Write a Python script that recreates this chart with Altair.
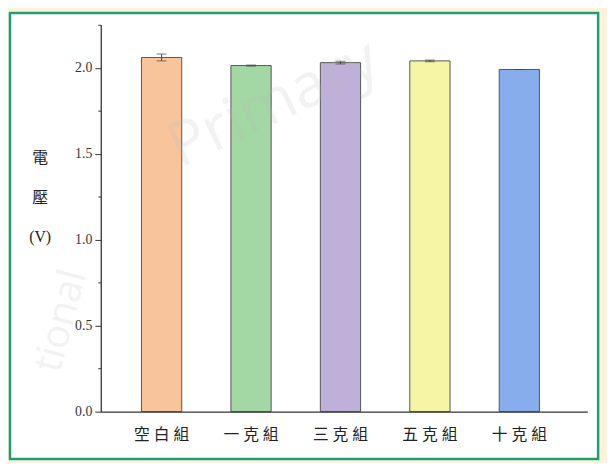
import altair as alt
import pandas as pd

groups = ["空白組", "一克組", "三克組", "五克組", "十克組"]
voltage = [2.06, 2.013, 2.03, 2.04, 1.99]
errors = [0.02, 0.003, 0.008, 0.005, 0.0]
colors = ["#f8c49c", "#a3d7a3", "#bfb0d9", "#f5f5a4", "#88adec"]
y_ticks = [0.0, 0.25, 0.5, 0.75, 1.0, 1.25, 1.5, 1.75, 2.0, 2.25]

df = pd.DataFrame({"group": groups, "v": voltage, "err": errors})
df["lo"] = df["v"] - df["err"]
df["hi"] = df["v"] + df["err"]

W, H = 493, 392
SERIF = "Liberation Serif, Times New Roman, DejaVu Serif, serif"
CJK = "Liberation Serif, Times New Roman, Noto Sans CJK TC, serif"

xscale = alt.Scale(domain=groups, paddingInner=0.55, paddingOuter=0.495, align=0.46)
yscale = alt.Scale(domain=[0, 2.25], nice=False, zero=True)

x_enc = alt.X("group:N", scale=xscale, sort=groups, title=None,
              axis=alt.Axis(labelAngle=0, ticks=False, labelPadding=15,
                            labelFont=CJK, labelFontSize=16, labelColor="#222",
                            labelExpr="join(split(datum.label, ''), ' ')",
                            domainColor="#333", domainWidth=1.3, zindex=1))
y_enc = alt.Y("v:Q", scale=yscale,
              title=["電", "壓", "(V)"],
              axis=alt.Axis(values=y_ticks, grid=False,
                            labelExpr="datum.value % 0.5 == 0 ? format(datum.value, '.1f') : ''",
                            tickSize={"condition": {"test": "datum.value % 0.5 == 0", "value": 6}, "value": 3},
                            tickColor="#333", domainColor="#333", domainWidth=1.3,
                            labelFont=SERIF, labelFontSize=14, labelColor="#333", labelPadding=3,
                            titleAngle=0, titleX=-62, titleY=135, titleAlign="center",
                            titleBaseline="middle", titleLineHeight=40,
                            titleFont=CJK, titleFontSize=16, titleFontWeight="normal",
                            titleColor="#222", zindex=1))

one = pd.DataFrame({"a": [0]})
frame = alt.Chart(one).mark_rect(fill="white", stroke="#1f9e74", strokeWidth=2.5).encode(
    x=alt.value(-92), x2=alt.value(504), y=alt.value(-12), y2=alt.value(440))

wm1 = alt.Chart(one).mark_text(fontSize=62, angle=335, color="#bbbbbb", opacity=0.18,
                               font="Open Sans").encode(
    x=alt.value(175), y=alt.value(80), text=alt.value("Primary"))
wm2 = alt.Chart(one).mark_text(fontSize=40, angle=285, color="#bbbbbb", opacity=0.18,
                               font="Open Sans").encode(
    x=alt.value(-40), y=alt.value(300), text=alt.value("tional"))

base = alt.Chart(df)
bars = base.mark_bar(stroke="#555", strokeWidth=1).encode(
    x=x_enc, y=y_enc,
    color=alt.Color("group:N", scale=alt.Scale(domain=groups, range=colors), legend=None))
err_rule = base.mark_rule(color="#444", strokeWidth=1).encode(
    x=alt.X("group:N", scale=xscale, sort=groups), y="lo:Q", y2="hi:Q")
cap_lo = base.mark_tick(color="#444", thickness=1, size=10, orient="horizontal").encode(
    x=alt.X("group:N", scale=xscale, sort=groups), y="lo:Q")
cap_hi = base.mark_tick(color="#444", thickness=1, size=10, orient="horizontal").encode(
    x=alt.X("group:N", scale=xscale, sort=groups), y="hi:Q")

chart = alt.layer(frame, bars, err_rule, cap_lo, cap_hi, wm1, wm2).properties(
    width=W, height=H,
    autosize=alt.AutoSizeParams(type="none"),
    padding={"left": 94, "top": 14, "right": 20, "bottom": 49},
    background="#fdf3dd",
).configure_view(stroke=None)

chart.save("out.html", embed_options={"renderer": "svg", "actions": False})
